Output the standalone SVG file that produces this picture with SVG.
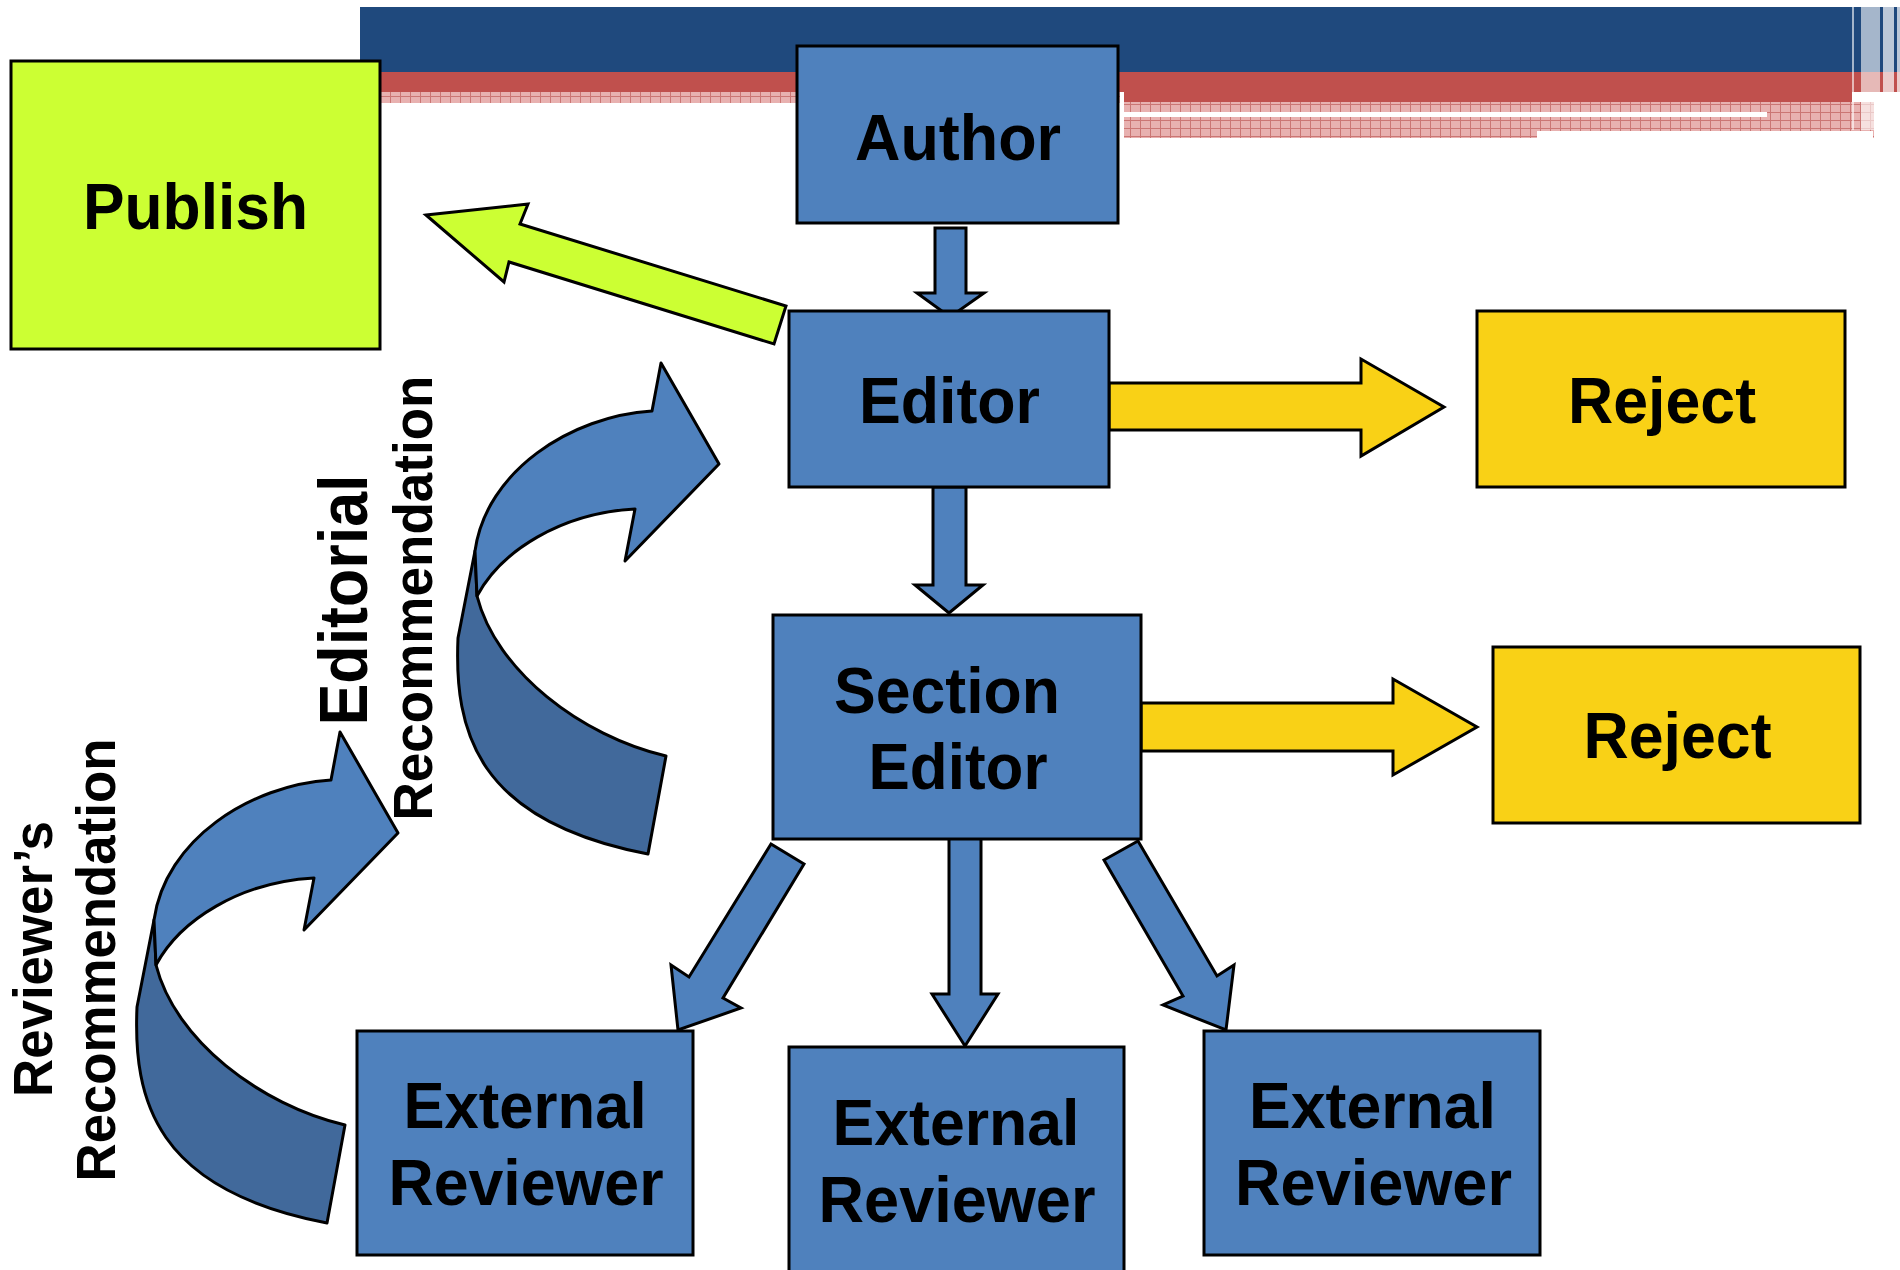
<svg xmlns="http://www.w3.org/2000/svg" width="1900" height="1270" viewBox="0 0 1900 1270">
<defs>
<style>
.box{stroke:#000;stroke-width:3}
.blue{fill:#4F81BD}
.lime{fill:#CCFF33}
.gold{fill:#F9D116}
.arr{stroke:#000;stroke-width:3;stroke-linejoin:miter}
.lt{fill:#4F81BD;stroke:#000;stroke-width:3;stroke-linejoin:round}
.dk{fill:#41699B;stroke:#000;stroke-width:3;stroke-linejoin:round}
.t{font-family:"Liberation Sans",Arial,Helvetica,sans-serif;font-weight:bold;font-size:64px;fill:#000;text-anchor:middle}
.v{font-family:"Liberation Sans",Arial,Helvetica,sans-serif;font-weight:bold;fill:#000;text-anchor:middle}
</style>
<pattern id="hatch" width="10" height="8" patternUnits="userSpaceOnUse">
<rect width="10" height="8" fill="#E8B1B0"/>
<path d="M0,0.5H10M0.5,0V8" stroke="#CB7674" stroke-width="1"/>
</pattern>
<g id="curl">
<path class="dk" d="M154,920 L137,1007 C133,1100 155,1190 327,1223 L345,1125 C260,1105 175,1040 156,965 Z"/>
<path class="lt" d="M331,780 L340,732 L398,833 L304,930 L314,878 C240,882 180,920 156,965 L154,920 C165,840 250,785 331,780 Z"/>
</g>
</defs>
<rect width="1900" height="1270" fill="#FFFFFF"/>
<g id="banner">
<rect x="360" y="7" width="1540" height="65" fill="#1F497D"/>
<rect x="360" y="72" width="1540" height="20" fill="#C0504D"/>
<rect x="360" y="92" width="760" height="11" fill="url(#hatch)"/>
<rect x="1124" y="92" width="728" height="10" fill="#C0504D"/>
<rect x="1124" y="102" width="750" height="36" fill="url(#hatch)"/>
<rect x="1124" y="112" width="643" height="5" fill="#FFFFFF"/>
<rect x="1537" y="131" width="336" height="7" fill="#FFFFFF"/>
<rect x="1852" y="7" width="2" height="123" fill="#FFFFFF" opacity="0.6"/>
<rect x="1861" y="7" width="19" height="123" fill="#FFFFFF" opacity="0.6"/>
<rect x="1883" y="7" width="11" height="131" fill="#FFFFFF" opacity="0.7"/>
<rect x="1897" y="7" width="3" height="131" fill="#FFFFFF" opacity="0.7"/>
</g>
<g id="connectors">
<polygon class="arr lime" points="426,215 528,204 520,224 786,306 774,344 509,262 504,282"/>
<polygon class="arr blue" points="935,228 966,228 966,293 984,293 950,317 917,293 935,293"/>
<polygon class="arr blue" points="933,487 966,487 966,585 983,585 949,613 915,585 933,585"/>
<polygon class="arr gold" points="1109,383 1361,383 1361,359 1444,407 1361,456 1361,430 1109,430"/>
<polygon class="arr gold" points="1141,703 1393,703 1393,679 1477,727 1393,775 1393,751 1141,751"/>
<polygon class="arr blue" points="949,838 981,838 981,994 998,994 965,1046 932,994 949,994"/>
<polygon class="arr blue" points="771,844 804,864 723,998 741,1008 678,1030 671,965 689,977"/>
<polygon class="arr blue" points="1138,841 1217,976 1234,965 1226,1030 1163,1005 1183,996 1104,860"/>
<use href="#curl"/>
<use href="#curl" transform="translate(321,-369)"/>
</g>
<g id="publish">
<rect class="box lime" x="11" y="61" width="369" height="288"/>
<text class="t" x="195.5" y="229" textLength="225" lengthAdjust="spacingAndGlyphs">Publish</text>
</g>
<g id="author">
<rect class="box blue" x="797" y="46" width="321" height="177"/>
<text class="t" x="958" y="160" textLength="206" lengthAdjust="spacingAndGlyphs">Author</text>
</g>
<g id="editor">
<rect class="box blue" x="789" y="311" width="320" height="176"/>
<text class="t" x="949.5" y="423" textLength="181" lengthAdjust="spacingAndGlyphs">Editor</text>
</g>
<g id="reject1">
<rect class="box gold" x="1477" y="311" width="368" height="176"/>
<text class="t" x="1662" y="423" textLength="188" lengthAdjust="spacingAndGlyphs">Reject</text>
</g>
<g id="section-editor">
<rect class="box blue" x="773" y="615" width="368" height="224"/>
<text class="t" x="947" y="713" textLength="226" lengthAdjust="spacingAndGlyphs">Section</text>
<text class="t" x="958" y="789" textLength="179" lengthAdjust="spacingAndGlyphs">Editor</text>
</g>
<g id="reject2">
<rect class="box gold" x="1493" y="647" width="367" height="176"/>
<text class="t" x="1677.5" y="758" textLength="188" lengthAdjust="spacingAndGlyphs">Reject</text>
</g>
<g id="reviewer1">
<rect class="box blue" x="357" y="1031" width="336" height="224"/>
<text class="t" x="525" y="1128" textLength="243" lengthAdjust="spacingAndGlyphs">External</text>
<text class="t" x="526" y="1205" textLength="275" lengthAdjust="spacingAndGlyphs">Reviewer</text>
</g>
<g id="reviewer2">
<rect class="box blue" x="789" y="1047" width="335" height="230"/>
<text class="t" x="956" y="1145" textLength="247" lengthAdjust="spacingAndGlyphs">External</text>
<text class="t" x="957" y="1222" textLength="277" lengthAdjust="spacingAndGlyphs">Reviewer</text>
</g>
<g id="reviewer3">
<rect class="box blue" x="1204" y="1031" width="336" height="224"/>
<text class="t" x="1372.5" y="1128" textLength="247" lengthAdjust="spacingAndGlyphs">External</text>
<text class="t" x="1373.5" y="1205" textLength="277" lengthAdjust="spacingAndGlyphs">Reviewer</text>
</g>
<g id="labels">
<text class="v" font-size="56" transform="translate(52,959) rotate(-90)" textLength="276" lengthAdjust="spacingAndGlyphs">Reviewer’s</text>
<text class="v" font-size="56" transform="translate(115,960) rotate(-90)" textLength="443" lengthAdjust="spacingAndGlyphs">Recommendation</text>
<text class="v" font-size="69" transform="translate(367,600) rotate(-90)" textLength="251" lengthAdjust="spacingAndGlyphs">Editorial</text>
<text class="v" font-size="55" transform="translate(432,598) rotate(-90)" textLength="445" lengthAdjust="spacingAndGlyphs">Recommendation</text>
</g>
</svg>
